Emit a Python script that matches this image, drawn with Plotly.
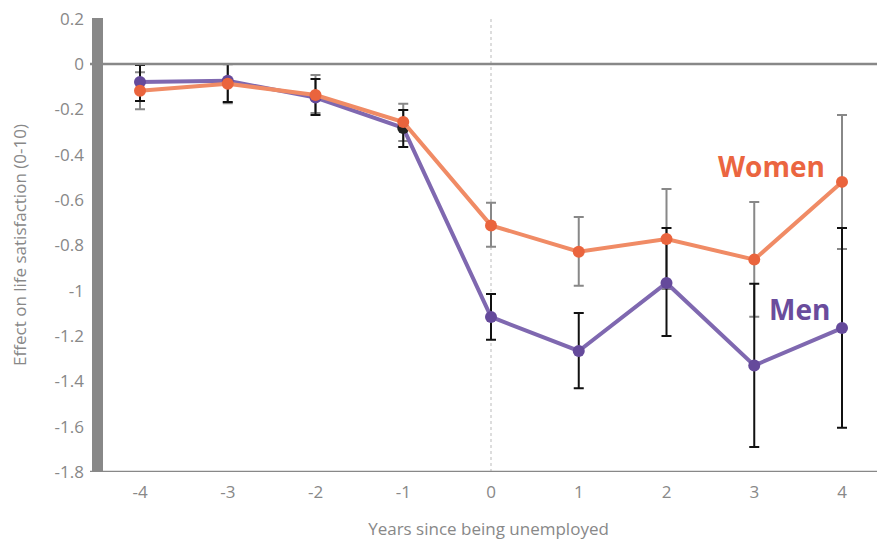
import plotly.graph_objects as go

years = [-4, -3, -2, -1, 0, 1, 2, 3, 4]

men = [-0.079, -0.074, -0.148, -0.282, -1.116, -1.266, -0.966, -1.33, -1.165]
men_upper = [-0.004, 0.0, -0.066, -0.203, -1.015, -1.098, -0.723, -0.97, -0.723]
men_lower = [-0.163, -0.168, -0.225, -0.366, -1.217, -1.43, -1.2, -1.69, -1.605]

women = [-0.118, -0.087, -0.137, -0.256, -0.712, -0.828, -0.772, -0.863, -0.52]
women_upper = [-0.036, -0.001, -0.049, -0.175, -0.612, -0.675, -0.551, -0.609, -0.225]
women_lower = [-0.2, -0.173, -0.216, -0.34, -0.806, -0.978, -0.993, -1.115, -0.816]

ytick_vals = [0.2, 0, -0.2, -0.4, -0.6, -0.8, -1, -1.2, -1.4, -1.6, -1.8]
ytick_text = ["0.2", "0", "-0.2", "-0.4", "-0.6", "-0.8", "-1", "-1.2", "-1.4", "-1.6", "-1.8"]
xtick_text = ["-4", "-3", "-2", "-1", "0", "1", "2", "3", "4"]

W_LINE = "#F08B65"
W_MARK = "#EA643D"
M_LINE = "#7F68B0"
M_MARK = "#654A9B"
GRAY = "#888888"

def err(vals, up, lo):
    return dict(type="data", symmetric=False,
                array=[u - v for u, v in zip(up, vals)],
                arrayminus=[v - l for v, l in zip(vals, lo)])

fig = go.Figure()

# women error bars (behind)
e = err(women, women_upper, women_lower)
e.update(color=GRAY, thickness=2, width=5)
fig.add_trace(go.Scatter(x=years, y=women, mode="markers",
                         marker=dict(size=1, opacity=0),
                         error_y=e, hoverinfo="skip", showlegend=False))

# men
e = err(men, men_upper, men_lower)
e.update(color="#111111", thickness=2, width=5)
men_colors = [M_MARK] * len(years)
men_colors[3] = "#222222"
fig.add_trace(go.Scatter(x=years, y=men, mode="lines+markers",
                         line=dict(color=M_LINE, width=4),
                         marker=dict(size=12, color=men_colors),
                         error_y=e, showlegend=False))

# women line
fig.add_trace(go.Scatter(x=years, y=women, mode="lines+markers",
                         line=dict(color=W_LINE, width=4),
                         marker=dict(size=12, color=W_MARK),
                         showlegend=False))

PW = 793  # plot width in px
shapes = [
    dict(type="rect", xref="paper", yref="paper", x0=0, x1=11 / PW, y0=0, y1=1,
         fillcolor=GRAY, line=dict(width=0), layer="above"),
    dict(type="line", xref="paper", yref="y", x0=-2 / PW, x1=1, y0=0, y1=0,
         line=dict(color=GRAY, width=2.5)),
    dict(type="line", xref="paper", yref="y", x0=-2 / PW, x1=1, y0=-1.8, y1=-1.8,
         line=dict(color=GRAY, width=2.5)),
    dict(type="line", xref="x", yref="paper", x0=0, x1=0, y0=0, y1=1,
         line=dict(color="#BBBBBB", width=1, dash="dot"), layer="below"),
]

# the page body adds an 8px margin, so the figure is sized/offset to fit the window
fig.update_layout(
    width=877, height=532,
    margin=dict(l=84, r=0, t=10, b=68),
    paper_bgcolor="white", plot_bgcolor="white",
    font=dict(family="Open Sans", color=GRAY, size=17),
    shapes=shapes,
    xaxis=dict(range=[-4.547, 4.49], tickvals=years, ticktext=xtick_text,
               showgrid=False, zeroline=False, showline=False, ticks="",
               ticklabelstandoff=8, automargin=False, ticklabeloverflow="allow",
               tickfont=dict(size=17, color=GRAY),
               title=dict(text="Years since being unemployed",
                          font=dict(size=17, color=GRAY), standoff=26)),
    yaxis=dict(range=[-1.8, 0.203], tickvals=ytick_vals, ticktext=ytick_text,
               showgrid=False, zeroline=False, showline=False, ticks="",
               ticklabelstandoff=7, automargin=False, ticklabeloverflow="allow",
               tickfont=dict(size=17, color=GRAY),
               title=dict(text="Effect on life satisfaction (0-10)",
                          font=dict(size=17, color=GRAY), standoff=35)),
    annotations=[
        dict(x=3.197, y=-0.45, xref="x", yref="y", text="<b>Women</b>",
             showarrow=False, font=dict(size=28, color="#EB6540", family="Open Sans")),
        dict(x=3.52, y=-1.081, xref="x", yref="y", text="<b>Men</b>",
             showarrow=False, font=dict(size=28, color="#6A4C9C", family="Open Sans")),
    ],
)

fig.write_html("out.html")
